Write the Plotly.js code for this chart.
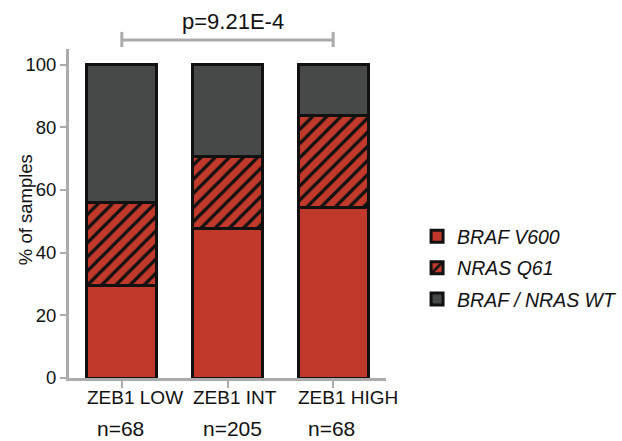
<!DOCTYPE html>
<html><head><meta charset="utf-8">
<script src="https://cdn.plot.ly/plotly-3.0.1.min.js"></script>
<style>html,body{margin:0;padding:0;background:#fff}</style>
</head><body>
<div id="chart" style="width:622px;height:441px"></div>
<script>
var categories = ["ZEB1 LOW", "ZEB1 INT", "ZEB1 HIGH"];
var sampleCounts = ["n=68", "n=205", "n=68"];
var brafV600 = [29.4, 47.8, 54.4];
var nrasQ61 = [26.5, 22.9, 29.4];
var wildType = [44.1, 29.3, 16.2];
var seriesNames = ["BRAF V600", "NRAS Q61", "BRAF / NRAS WT"];
var pValueText = "p=9.21E-4";
var yTitle = "% of samples";
var yTicks = [0, 20, 40, 60, 80, 100];

var RED = "#c0392a", DARK = "#474948", AXIS = "#ababab";
var FONT = "Arial, 'Liberation Sans', Helvetica, sans-serif";
var xIdx = categories.map(function(c, i){ return i; });

function barTrace(vals, name, color, pattern) {
  var m = {color: color, line: {color: "#111", width: 3}};
  if (pattern) m.pattern = {shape: "/", fgcolor: "#111", bgcolor: color, size: 10, solidity: 0.32};
  return {type: "bar", x: xIdx, y: vals, name: "<i>" + name + "</i>", width: 0.66, marker: m,
          legendgroup: name, hoverinfo: "skip"};
}

var data = [
  barTrace(brafV600, seriesNames[0], RED, false),
  barTrace(nrasQ61, seriesNames[1], RED, true),
  barTrace(wildType, seriesNames[2], DARK, false)
];

var annotations = [];
categories.forEach(function(c, i){
  annotations.push({x: i, xref: "x", y: -0.058, yref: "paper", text: c, showarrow: false,
    xanchor: "left", yanchor: "middle", xshift: -37, font: {family: FONT, size: 19, color: "#111"}});
  annotations.push({x: i, xref: "x", y: -0.152, yref: "paper", text: sampleCounts[i], showarrow: false,
    xanchor: "left", yanchor: "middle", xshift: -27, font: {family: FONT, size: 21, color: "#111"}});
});
annotations.push({x: 1, xref: "x", y: 1.085, yref: "paper", text: pValueText, showarrow: false,
  xanchor: "center", yanchor: "middle", xshift: 5, font: {family: FONT, size: 22, color: "#111"}});
annotations.push({x: 0, xref: "paper", y: 0.51, yref: "paper", text: yTitle, showarrow: false,
  textangle: -90, xanchor: "center", yanchor: "middle", xshift: -44,
  font: {family: FONT, size: 18.5, color: "#111"}});

var bracketY = 1.027, capTop = 1.052, capBot = 1.006;
var lineStyle = {color: AXIS, width: 3};
var shapes = [
  {type: "line", xref: "x", yref: "paper", x0: 0, x1: 2, y0: bracketY, y1: bracketY, line: lineStyle},
  {type: "line", xref: "x", yref: "paper", x0: 0, x1: 0, y0: capBot, y1: capTop, line: lineStyle},
  {type: "line", xref: "x", yref: "paper", x0: 2, x1: 2, y0: capBot, y1: capTop, line: lineStyle}
];

var layout = {
  width: 622, height: 441,
  margin: {l: 69, r: 236, t: 49, b: 63, pad: 0, autoexpand: false},
  paper_bgcolor: "#fff", plot_bgcolor: "#fff",
  barmode: "stack",
  font: {family: FONT, color: "#111"},
  xaxis: {range: [-0.5, 2.5], tickvals: xIdx, showticklabels: false, ticks: "outside",
          ticklen: 7, tickwidth: 2, tickcolor: AXIS, showline: true, linecolor: AXIS, linewidth: 3,
          showgrid: false, zeroline: false, fixedrange: true, automargin: false},
  yaxis: {range: [0, 105], tickvals: yTicks, ticks: "outside", ticklen: 6, tickwidth: 2,
          tickcolor: AXIS, showline: true, linecolor: AXIS, linewidth: 3, showgrid: false,
          zeroline: false, automargin: false, tickfont: {family: FONT, size: 18.5, color: "#111"}},
  showlegend: true,
  legend: {x: 1.098, xanchor: "left", y: 0.334, yanchor: "middle", traceorder: "grouped",
           tracegroupgap: 3, font: {family: FONT, size: 19.5, color: "#111"}, bgcolor: "rgba(0,0,0,0)"},
  annotations: annotations,
  shapes: shapes
};

Plotly.newPlot("chart", data, layout, {displayModeBar: false, staticPlot: true});
</script>
</body></html>
